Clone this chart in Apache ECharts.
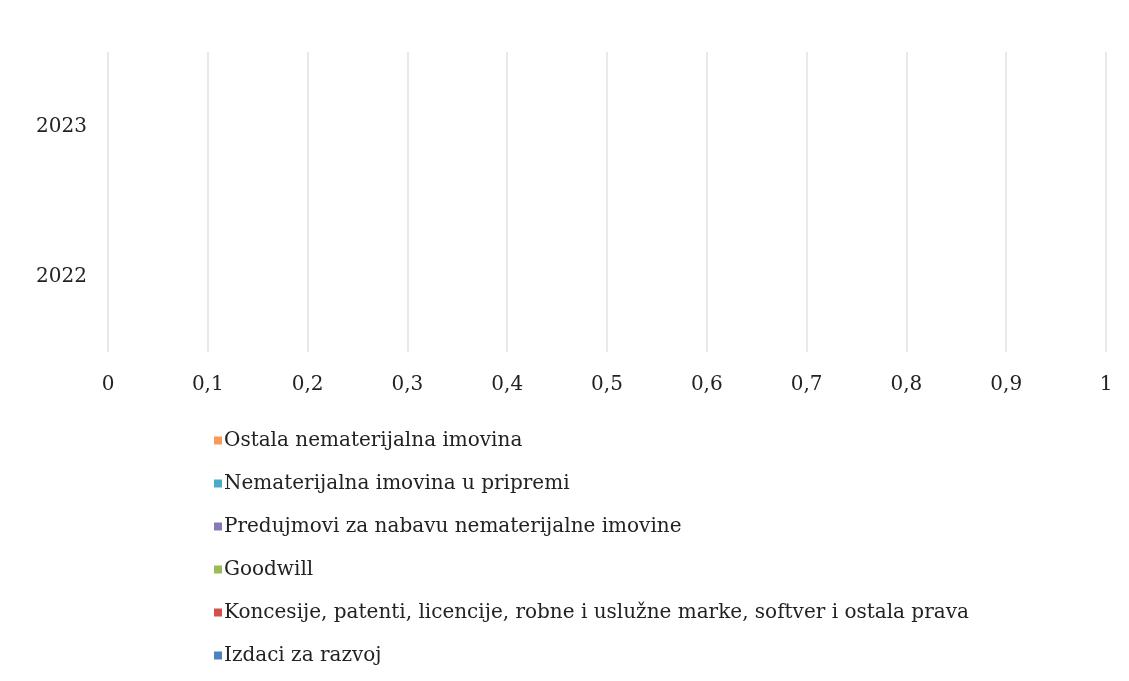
<!DOCTYPE html>
<html>
<head>
<meta charset="utf-8">
<script src="https://cdn.jsdelivr.net/npm/echarts@6/dist/echarts.min.js"></script>
<style>
  html, body { margin: 0; padding: 0; background: #fff; }
  #chart { width: 1129px; height: 681px; }
</style>
</head>
<body>
<div id="chart"></div>
<script>
// kategorije (godine) i serije - sve vrijednosti su 0
var years = ['2022', '2023'];
var seriesNames = [
    'Izdaci za razvoj',
    'Koncesije, patenti, licencije, robne i uslužne marke, softver i ostala prava',
    'Goodwill',
    'Predujmovi za nabavu nematerijalne imovine',
    'Nematerijalna imovina u pripremi',
    'Ostala nematerijalna imovina'
];
var izdaci = [0, 0];
var koncesije = [0, 0];
var goodwill = [0, 0];
var predujmovi = [0, 0];
var uPripremi = [0, 0];
var ostala = [0, 0];
var xTicks = [0, 0.1, 0.2, 0.3, 0.4, 0.5, 0.6, 0.7, 0.8, 0.9, 1];

var colors = ['#4f81bd', '#d2504d', '#9bbb59', '#8878b4', '#4bacc6', '#f79a5a'];
var values = [izdaci, koncesije, goodwill, predujmovi, uPripremi, ostala];
var font = 'DejaVu Serif';

var myChart = echarts.init(document.getElementById('chart'));

var series = [];
for (let i = 0; i < seriesNames.length; i++) {
    series.push({
        name: seriesNames[i],
        type: 'bar',
        stack: 'total',
        barWidth: '50%',
        itemStyle: { color: colors[i] },
        data: values[i]
    });
}

var option = {
    animation: false,
    color: colors,
    grid: { left: 108, right: 23, top: 52, height: 300 },
    xAxis: {
        type: 'value',
        min: 0,
        max: 1,
        interval: 0.1,
        axisLine: { show: false },
        axisTick: { show: false },
        splitLine: { lineStyle: { color: '#e9e9e9', width: 2 } },
        axisLabel: {
            margin: 23,
            color: '#222',
            fontFamily: font,
            fontSize: 20,
            formatter: function (v) {
                var t = xTicks.find(function (x) { return Math.abs(x - v) < 1e-9; });
                return String(t === undefined ? v : t).replace('.', ',');
            }
        }
    },
    yAxis: {
        type: 'category',
        data: years,
        axisLine: { show: false },
        axisTick: { show: false },
        axisLabel: { margin: 21, color: '#222', fontFamily: font, fontSize: 20 }
    },
    legend: {
        orient: 'vertical',
        left: 209,
        top: 424,
        itemWidth: 8,
        itemHeight: 8,
        itemGap: 20,
        icon: 'rect',
        data: seriesNames.slice().reverse(),
        textStyle: { fontFamily: font, fontSize: 20, color: '#222', lineHeight: 23, padding: [0, 0, 0, -3] }
    },
    series: series
};

myChart.setOption(option);
</script>
</body>
</html>
